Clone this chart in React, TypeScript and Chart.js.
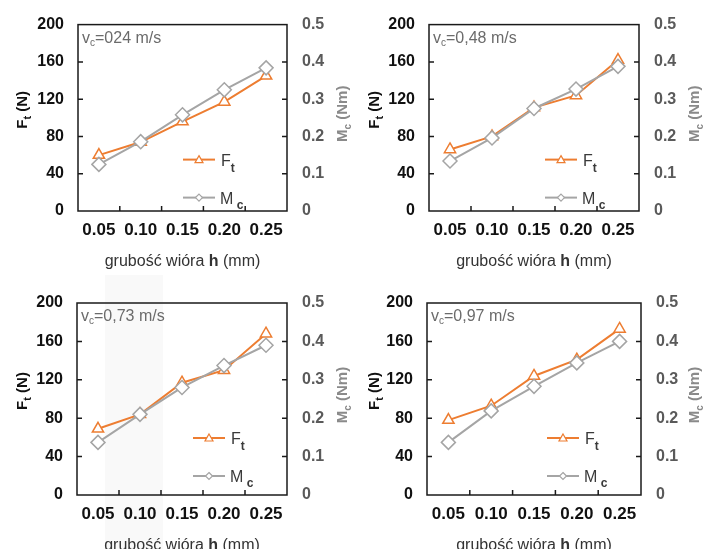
import React, { useEffect, useRef } from 'react';
import { Chart, registerables } from 'chart.js';

Chart.register(...registerables);

// ---- data ----
const categories = ['0.05', '0.10', '0.15', '0.20', '0.25'];
const speedLabels = ['=024 m/s', '=0,48 m/s', '=0,73 m/s', '=0,97 m/s'];
const ftV1 = [60, 74, 96, 117, 145];
const mcV1 = [0.125, 0.186, 0.258, 0.325, 0.384];
const ftV2 = [66, 80, 111, 124, 162];
const mcV2 = [0.134, 0.196, 0.275, 0.327, 0.388];
const ftV3 = [69, 84, 117, 130, 168];
const mcV3 = [0.137, 0.21, 0.28, 0.337, 0.39];
const ftV4 = [78, 93, 124, 141, 173];
const mcV4 = [0.137, 0.219, 0.283, 0.344, 0.4];
const ftTickValues = [40, 80, 120, 160];
const mcTickValues = [0.1, 0.2, 0.3, 0.4];

const FONT = "'Liberation Sans', Arial, sans-serif";
const ORANGE = '#ED7D31';
const GREY = '#A5A5A5';

type Panel = {
  x: number; y: number; w: number; h: number;
  l: number; r: number; t: number; b: number;
  ft: number[]; mc: number[]; speed: string; legX: number;
};

const panels: Panel[] = [
  { x: 0, y: 0, w: 352, h: 275, l: 78, r: 287, t: 20, b: 211, ft: ftV1, mc: mcV1, speed: speedLabels[0], legX: 183 },
  { x: 352, y: 0, w: 352, h: 275, l: 77, r: 287, t: 20, b: 211, ft: ftV2, mc: mcV2, speed: speedLabels[1], legX: 193 },
  { x: 0, y: 275, w: 352, h: 274, l: 77, r: 287, t: 28, b: 220, ft: ftV3, mc: mcV3, speed: speedLabels[2], legX: 193 },
  { x: 352, y: 275, w: 352, h: 274, l: 75, r: 289, t: 28, b: 220, ft: ftV4, mc: mcV4, speed: speedLabels[3], legX: 195 },
];

function drawSub(ctx: CanvasRenderingContext2D, x: number, y: number, parts: { t: string; f: string; dy?: number }[]) {
  let cx = x;
  for (const p of parts) {
    ctx.font = p.f;
    ctx.fillText(p.t, cx, y + (p.dy || 0));
    cx += ctx.measureText(p.t).width;
  }
  return cx - x;
}
function measureParts(ctx: CanvasRenderingContext2D, parts: { t: string; f: string }[]) {
  let w = 0;
  for (const p of parts) { ctx.font = p.f; w += ctx.measureText(p.t).width; }
  return w;
}

function makePlugin(p: Panel) {
  return {
    id: 'decor',
    afterDraw(chart: any) {
      const ctx: CanvasRenderingContext2D = chart.ctx;
      const a = chart.chartArea;
      const xs = chart.scales.x;
      const yl = chart.scales.y;
      const yr = chart.scales.y1;
      ctx.save();
      // frame
      ctx.strokeStyle = '#1a1a1a';
      ctx.lineWidth = 1.5;
      ctx.strokeRect(a.left, a.top, a.right - a.left, a.bottom - a.top);
      // ticks
      ctx.beginPath();
      for (const v of ftTickValues) {
        const yy = yl.getPixelForValue(v);
        ctx.moveTo(a.left, yy); ctx.lineTo(a.left + 5, yy);
      }
      for (const v of mcTickValues) {
        const yy = yr.getPixelForValue(v);
        ctx.moveTo(a.right, yy); ctx.lineTo(a.right - 5, yy);
      }
      for (let i = 0; i < categories.length - 1; i++) {
        const xx = (xs.getPixelForValue(i) + xs.getPixelForValue(i + 1)) / 2;
        ctx.moveTo(xx, a.bottom); ctx.lineTo(xx, a.bottom - 5);
      }
      ctx.stroke();

      // speed label
      ctx.fillStyle = '#6b6b6b';
      ctx.textBaseline = 'alphabetic';
      ctx.textAlign = 'left';
      drawSub(ctx, a.left + 4, a.top + 18, [
        { t: 'v', f: `16px ${FONT}` },
        { t: 'c', f: `10px ${FONT}`, dy: 3 },
        { t: p.speed, f: `16px ${FONT}` },
      ]);

      // legend
      const legY1 = a.top + 135;
      const legY2 = a.top + 173;
      const lx = p.legX;
      const len = 32;
      ctx.lineWidth = 2;
      ctx.strokeStyle = ORANGE;
      ctx.beginPath(); ctx.moveTo(lx, legY1); ctx.lineTo(lx + len, legY1); ctx.stroke();
      ctx.fillStyle = '#fff';
      ctx.lineWidth = 1.2;
      ctx.beginPath();
      const mx = lx + len / 2;
      ctx.moveTo(mx, legY1 - 4); ctx.lineTo(mx + 4, legY1 + 3); ctx.lineTo(mx - 4, legY1 + 3); ctx.closePath();
      ctx.fill(); ctx.stroke();
      ctx.lineWidth = 2;
      ctx.strokeStyle = GREY;
      ctx.beginPath(); ctx.moveTo(lx, legY2); ctx.lineTo(lx + len, legY2); ctx.stroke();
      ctx.lineWidth = 1.2;
      ctx.beginPath();
      ctx.moveTo(mx, legY2 - 3.5); ctx.lineTo(mx + 3.5, legY2); ctx.lineTo(mx, legY2 + 3.5); ctx.lineTo(mx - 3.5, legY2); ctx.closePath();
      ctx.fill(); ctx.stroke();
      ctx.fillStyle = '#3a3a3a';
      drawSub(ctx, lx + len + 6, legY1 + 6, [
        { t: 'F', f: `16px ${FONT}` },
        { t: 't', f: `bold 12px ${FONT}`, dy: 6 },
      ]);
      drawSub(ctx, lx + len + 5, legY2 + 6, [
        { t: 'M', f: `16px ${FONT}` },
        { t: ' c', f: `bold 12px ${FONT}`, dy: 5 },
      ]);

      // left axis title
      const lparts = [
        { t: 'F', f: `bold 15px ${FONT}` },
        { t: 't', f: `bold 11px ${FONT}`, dy: 4 },
        { t: ' (N)', f: `bold 15px ${FONT}` },
      ];
      const cy = (a.top + a.bottom) / 2;
      ctx.fillStyle = '#111';
      ctx.save();
      ctx.translate(27, cy - 8);
      ctx.rotate(-Math.PI / 2);
      drawSub(ctx, -measureParts(ctx, lparts) / 2, 0, lparts);
      ctx.restore();

      // right axis title
      const rparts = [
        { t: 'M', f: `bold 15px ${FONT}` },
        { t: 'c', f: `bold 10px ${FONT}`, dy: 4 },
        { t: ' (Nm)', f: `bold 15px ${FONT}` },
      ];
      ctx.fillStyle = '#8a8a8a';
      ctx.save();
      ctx.translate(p.w - 5, cy - 4);
      ctx.rotate(-Math.PI / 2);
      drawSub(ctx, -measureParts(ctx, rparts) / 2, 0, rparts);
      ctx.restore();

      // x axis title
      const xparts = [
        { t: 'grubość wióra ', f: `16px ${FONT}` },
        { t: 'h', f: `bold 16px ${FONT}` },
        { t: ' (mm)', f: `16px ${FONT}` },
      ];
      ctx.fillStyle = '#333';
      drawSub(ctx, (a.left + a.right) / 2 - measureParts(ctx, xparts) / 2, a.bottom + 55, xparts);

      ctx.restore();
    },
  };
}

function PanelChart({ p }: { p: Panel }) {
  const ref = useRef<HTMLCanvasElement>(null);
  useEffect(() => {
    if (!ref.current) return;
    const chart = new Chart(ref.current, {
      type: 'line',
      data: {
        labels: categories,
        datasets: [
          {
            label: 'Mc',
            data: p.mc,
            yAxisID: 'y1',
            borderColor: GREY,
            backgroundColor: '#fff',
            borderWidth: 2,
            pointStyle: 'rectRot',
            pointRadius: 7,
            pointBorderWidth: 1.5,
            pointBackgroundColor: '#fff',
            pointBorderColor: GREY,
          },
          {
            label: 'Ft',
            data: p.ft,
            yAxisID: 'y',
            borderColor: ORANGE,
            backgroundColor: '#fff',
            borderWidth: 2,
            pointStyle: 'triangle',
            pointRadius: 6.5,
            pointBorderWidth: 1.5,
            pointBackgroundColor: '#fff',
            pointBorderColor: ORANGE,
          },
        ],
      },
      options: {
        responsive: false,
        animation: false,
        layout: { padding: { top: p.t, left: 0, right: 0, bottom: 0 } },
        plugins: { legend: { display: false }, tooltip: { enabled: false } },
        scales: {
          x: {
            offset: true,
            grid: { display: false, drawTicks: false },
            border: { display: false },
            ticks: { color: '#111', font: { family: FONT, size: 17, weight: 'bold' }, padding: 9, maxRotation: 0, autoSkip: false },
            afterFit: (s: any) => { s.height = p.h - p.b; },
          },
          y: {
            position: 'left',
            min: 0, max: 200,
            grid: { display: false, drawTicks: false },
            border: { display: false },
            ticks: { stepSize: 40, color: '#111', font: { family: FONT, size: 16, weight: 'bold' }, padding: 14 },
            afterFit: (s: any) => { s.width = p.l; },
          },
          y1: {
            position: 'right',
            min: 0, max: 0.5,
            grid: { display: false, drawTicks: false },
            border: { display: false },
            ticks: { stepSize: 0.1, color: '#5a5a5a', font: { family: FONT, size: 16, weight: 'bold' }, padding: 15 },
            afterFit: (s: any) => { s.width = p.w - p.r; },
          },
        },
      },
      plugins: [makePlugin(p)],
    } as any);
    return () => chart.destroy();
  }, [p]);
  return (
    <canvas
      ref={ref}
      width={p.w}
      height={p.h}
      style={{ position: 'absolute', left: p.x, top: p.y, width: p.w, height: p.h }}
    />
  );
}

export default function App() {
  return (
    <div style={{ position: 'absolute', left: 0, top: 0, width: 704, height: 549, background: '#fff', overflow: 'hidden' }}>
      <div style={{ position: 'absolute', left: 105, top: 275, width: 58, height: 274, background: '#f9f9f9' }} />
      {panels.map((p, i) => (
        <PanelChart key={i} p={p} />
      ))}
    </div>
  );
}
